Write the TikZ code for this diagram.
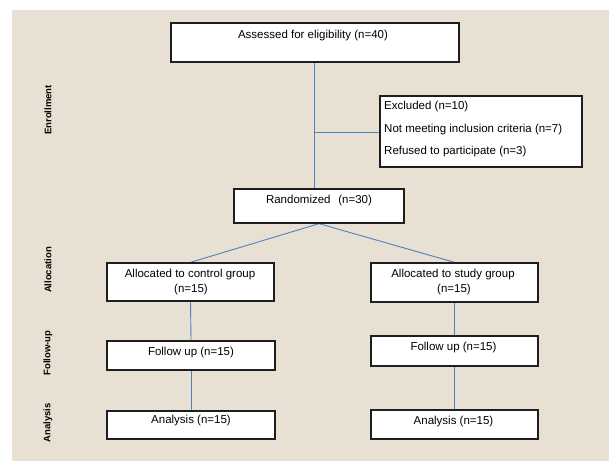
\documentclass[tikz,border=0pt]{standalone}
\usepackage{fontspec}
\setmainfont{Liberation Sans}
\definecolor{bgbeige}{RGB}{231,224,211}
\definecolor{linkblue}{RGB}{79,129,189}
\definecolor{boxline}{RGB}{30,30,30}
\begin{document}
\begin{tikzpicture}[x=1pt,y=-1pt,
  box/.style={draw=boxline, line width=1.3pt, fill=white, inner sep=0pt},
  txt/.style={inner sep=0pt, font=\fontsize{11.5}{13}\selectfont},
  side/.style={inner sep=0pt, rotate=90, font=\fontsize{9.5}{11}\selectfont\bfseries},
  conn/.style={draw=linkblue, line width=0.9pt}]
\useasboundingbox (0,0) rectangle (609,461);
\fill[bgbeige] (12,10) rectangle (609,461);

% boxes
\node[box, minimum width=288pt, minimum height=39pt] (assess) at (315,42.5) {};
\node[box, minimum width=202pt, minimum height=71pt] (excl) at (481,131.5) {};
\node[box, minimum width=170pt, minimum height=34pt] (rand) at (319,206) {};
\node[box, minimum width=167pt, minimum height=38pt] (ctrl) at (190.5,282) {};
\node[box, minimum width=167pt, minimum height=39pt] (study) at (454.5,282.5) {};
\node[box, minimum width=168pt, minimum height=29pt] (fctrl) at (191,355.5) {};
\node[box, minimum width=167pt, minimum height=30pt] (fstudy) at (454.5,351) {};
\node[box, minimum width=168pt, minimum height=28pt] (actrl) at (191,425) {};
\node[box, minimum width=167pt, minimum height=29pt] (astudy) at (454.5,424.5) {};

% texts
\node[txt, anchor=base] (tassess) at (313,38) {Assessed for eligibility (n=40)};
\node[txt, anchor=base west] (texcl1) at (384,109) {Excluded (n=10)};
\node[txt, anchor=base west] (texcl2) at (384,132) {Not meeting inclusion criteria (n=7)};
\node[txt, anchor=base west] (texcl3) at (384,154) {Refused to participate (n=3)};
\node[txt, anchor=base] (trand) at (319,203) {Randomized\hspace{0.4em} (n=30)};
\node[txt, anchor=base] (tctrl1) at (190,277) {Allocated to control group};
\node[txt, anchor=base] (tctrl2) at (191,292) {(n=15)};
\node[txt, anchor=base] (tstudy1) at (453,277) {Allocated to study group};
\node[txt, anchor=base] (tstudy2) at (454,292) {(n=15)};
\node[txt, anchor=base] (tfctrl) at (191,355) {Follow up (n=15)};
\node[txt, anchor=base] (tfstudy) at (453.5,350) {Follow up (n=15)};
\node[txt, anchor=base] (tactrl) at (191,423) {Analysis (n=15)};
\node[txt, anchor=base] (tastudy) at (453.5,424) {Analysis (n=15)};

% side labels
\node[side] (lenr) at (48,110) {Enrollment};
\node[side] (lall) at (48,270) {Allocation};
\node[side] (lfol) at (48,353) {Follow-up};
\node[side] (lana) at (48,423) {Analysis};

% connectors
\coordinate (trunk) at (314,132);
\draw[conn] (trunk |- assess.south) -- (trunk |- rand.north);
\draw[conn] (trunk) -- (excl.west |- trunk);
\draw[conn] (rand.south) -- (ctrl.north);
\draw[conn] (rand.south) -- (study.north);
\draw[conn] (ctrl.south) -- (fctrl.north);
\draw[conn] (fctrl.south) -- (actrl.north);
\draw[conn] (study.south) -- (fstudy.north);
\draw[conn] (fstudy.south) -- (astudy.north);

% redraw box borders above connector ends
\foreach \n in {assess,excl,rand,ctrl,study,fctrl,fstudy,actrl,astudy}
  \draw[draw=boxline, line width=1.3pt] (\n.north west) rectangle (\n.south east);
\end{tikzpicture}
\end{document}
